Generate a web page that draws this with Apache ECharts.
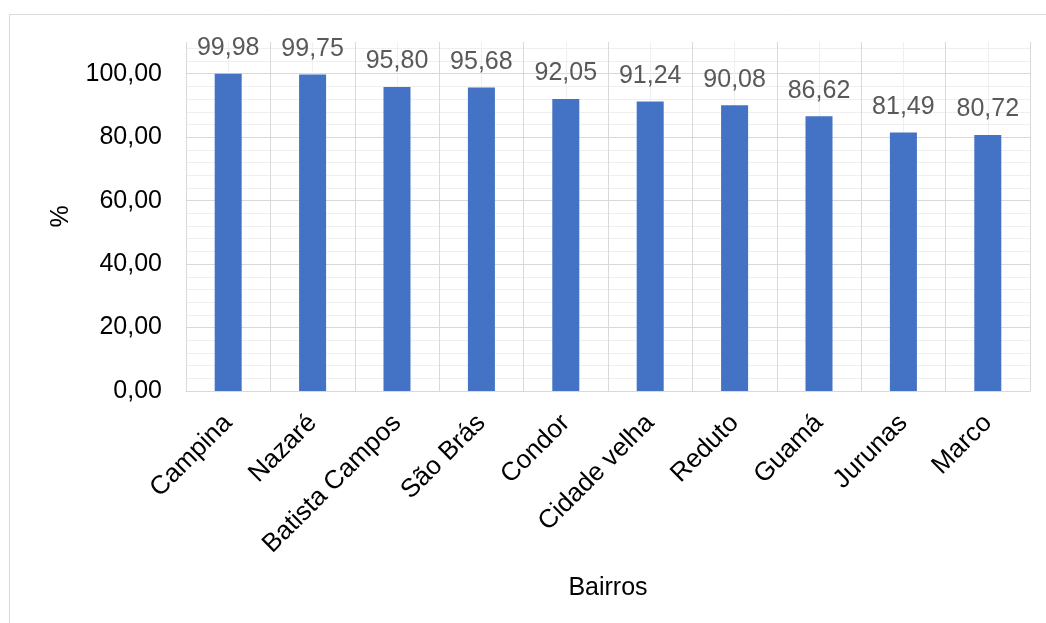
<!DOCTYPE html>
<html>
<head>
<meta charset="utf-8">
<script src="https://cdn.jsdelivr.net/npm/echarts@6/dist/echarts.min.js"></script>
<style>
html,body{margin:0;padding:0;background:#fff;}
#chart{width:1046px;height:623px;}
</style>
</head>
<body>
<div id="chart"></div>
<script>
const categories = ['Campina','Nazaré','Batista Campos','São Brás','Condor','Cidade velha','Reduto','Guamá','Jurunas','Marco'];
const values = [99.98, 99.75, 95.80, 95.68, 92.05, 91.24, 90.08, 86.62, 81.49, 80.72];
const yTickLabels = ['0,00','20,00','40,00','60,00','80,00','100,00'];

const FONT = 'Liberation Sans, Arial, sans-serif';
const fmt = v => v.toFixed(2).replace('.', ',');

// vertical gridlines: boundaries darker, category centres lighter
const vColors = [];
for (let i = 0; i <= 20; i++) vColors.push(i % 2 === 0 ? '#d9d9d9' : '#efefef');
// horizontal minor gridlines every 4
const hColors = [];
for (let i = 0; i <= 28; i++) hColors.push(i % 5 === 0 ? 'rgba(0,0,0,0)' : '#efefef');

const chart = echarts.init(document.getElementById('chart'), null, {renderer: 'canvas'});
chart.setOption({
  animation: false,
  backgroundColor: '#fff',
  textStyle: {fontFamily: FONT},
  graphic: [{
    type: 'rect', z: -10, silent: true,
    shape: {x: 9.5, y: 14.5, width: 1100, height: 700},
    style: {fill: 'none', stroke: '#d9d9d9', lineWidth: 1}
  }],
  grid: {left: 186, right: 16, top: 42, bottom: 232, containLabel: false},
  xAxis: [{
    type: 'category',
    data: categories,
    name: 'Bairros',
    nameLocation: 'middle',
    nameGap: 185,
    nameMoveOverlap: false,
    nameTextStyle: {fontSize: 25, color: '#000', fontFamily: FONT},
    axisLine: {show: true, lineStyle: {color: '#d9d9d9', width: 1}},
    axisTick: {show: false},
    splitLine: {show: false},
    axisLabel: {rotate: 45, fontSize: 26, color: '#000', margin: 28, interval: 0, fontFamily: FONT}
  }, {
    type: 'value',
    min: 0, max: 20, interval: 1,
    position: 'bottom',
    show: true,
    axisLine: {show: false},
    axisTick: {show: false},
    axisLabel: {show: false},
    splitLine: {show: true, lineStyle: {color: vColors, width: 1}}
  }],
  yAxis: [{
    type: 'value',
    min: 0, max: 110, interval: 20,
    name: '%',
    nameLocation: 'middle',
    nameGap: 112,
    nameMoveOverlap: false,
    nameRotate: 90,
    nameTextStyle: {fontSize: 25, color: '#000', fontFamily: FONT},
    axisLine: {show: false},
    axisTick: {show: false},
    axisLabel: {
      fontSize: 25, color: '#000', margin: 24, fontFamily: FONT,
      showMaxLabel: false,
      formatter: v => { const i = Math.round(v / 20); return (v % 20 === 0 && i < yTickLabels.length) ? yTickLabels[i] : ''; }
    },
    splitLine: {show: true, showMaxLine: false, lineStyle: {color: '#d9d9d9', width: 1}}
  }, {
    type: 'value',
    min: 0, max: 110, interval: 4,
    position: 'left',
    axisLine: {show: false},
    axisTick: {show: false},
    axisLabel: {show: false},
    splitLine: {show: true, showMaxLine: false, lineStyle: {color: hColors, width: 1}}
  }],
  series: [{
    type: 'bar',
    xAxisIndex: 0,
    yAxisIndex: 0,
    data: values,
    barWidth: '32%',
    z: 5,
    itemStyle: {color: '#4472C4'},
    label: {
      show: true, position: 'top', distance: 13,
      fontSize: 25, color: '#595959', fontFamily: FONT,
      formatter: p => fmt(p.value)
    }
  }]
});
</script>
</body>
</html>
